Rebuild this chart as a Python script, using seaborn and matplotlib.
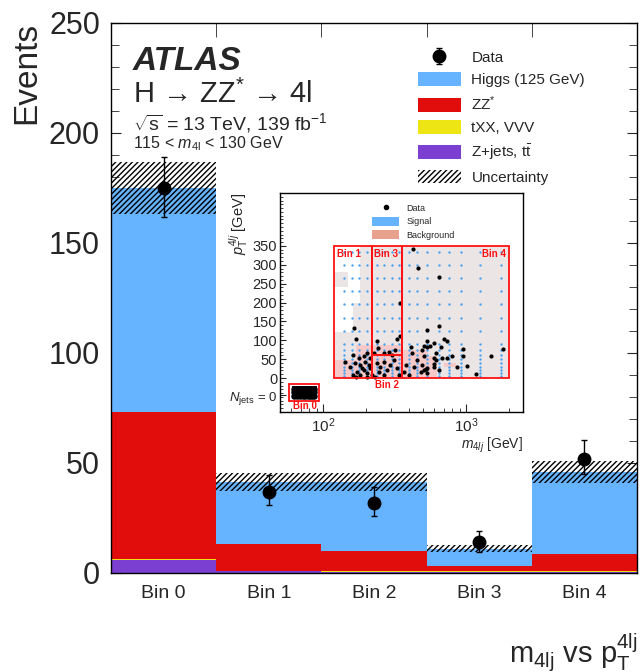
import numpy as np
import pandas as pd
import matplotlib
matplotlib.use("Agg")
import matplotlib.pyplot as plt
import seaborn as sns
from matplotlib.patches import Rectangle, Patch
from matplotlib.ticker import MultipleLocator
from matplotlib.lines import Line2D

# ---- main histogram data (events per bin) ----
bins = ["Bin 0", "Bin 1", "Bin 2", "Bin 3", "Bin 4"]
zjets = [5.8, 0.8, 0.4, 0.3, 0.4]
txx = [0.5, 0.3, 0.3, 0.5, 0.4]
zz = [67.0, 11.9, 9.3, 2.2, 7.8]
higgs = [101.7, 28.5, 31.5, 8.0, 37.4]
unc = [12.0, 4.0, 4.0, 1.5, 5.0]
data = [175, 37, 32, 14, 52]
data_lo = [13, 6, 6, 4.3, 7]
data_hi = [14, 7.5, 7, 5, 8.5]

# ---- inset: selected events (m4lj [GeV], pT4lj [GeV]) ----
ev_m = [165, 171, 345, 345, 330, 321, 239, 243, 226, 266, 289, 305, 162, 177,
        192, 203, 214, 168, 182, 198, 209, 214, 192, 173, 163, 182, 203, 220,
        239, 252, 266, 281, 245, 296, 313, 330, 340, 266, 232, 187, 155, 143,
        203, 171, 410, 422, 509, 457, 433, 495, 537, 482, 378, 368, 399, 537,
        649, 649, 537, 531, 696, 735, 598, 561, 509, 495, 667, 615, 948, 948,
        1811, 1500, 793, 735, 674, 598, 615, 593, 593, 649, 523, 509, 537,
        1016, 864, 1175, 464, 428]
ev_pt = [132, 103, 200, 110, 103, 74, 97, 79, 66, 66, 70, 61, 61, 52,
         57, 66, 52, 39, 35, 43, 35, 26, 21, 17, 8, 8, 12, 8,
         39, 30, 43, 21, 17, 35, 48, 26, 8, 8, 3, 26, 30, 43,
         3, 2, 83, 66, 57, 48, 30, 35, 26, 17, 35, 17, 8, 83,
         268, 138, 126, 99, 104, 99, 94, 85, 85, 74, 82, 66, 76, 59,
         76, 59, 57, 52, 52, 52, 48, 37, 30, 21, 23, 21, 12,
         32, 30, 10, 291, 343]
bin0_m = [63, 66, 69, 72, 75, 78, 81, 84, 87]
bin0_pt = [-28, -38, -48]
sig_m = [139, 159, 177, 203, 239, 266, 305, 339, 399, 457, 537, 649, 762, 922, 1242, 1766]
sig_pt = [5, 12, 20, 30, 40, 50, 62, 75, 90, 125, 160, 195, 230, 265, 300, 335]

c_higgs = "#66b3ff"
c_zz = "#e10c0c"
c_txx = "#eee614"
c_zj = "#7b3fd2"

sns.set_style("ticks")
plt.rcParams["font.family"] = ["Liberation Sans", "DejaVu Sans"]
plt.rcParams["mathtext.fontset"] = "custom"
plt.rcParams["mathtext.rm"] = "Liberation Sans"
plt.rcParams["mathtext.it"] = "Liberation Sans:italic"
plt.rcParams["mathtext.bf"] = "Liberation Sans:bold"
plt.rcParams["hatch.linewidth"] = 1.0

fig = plt.figure(figsize=(6.44, 6.72), dpi=100)
ax = fig.add_axes([111 / 644, 1 - 573 / 672, 526 / 644, 550 / 672])

# stacked histogram through seaborn
rows = []
for name, vals in [("Higgs", higgs), ("ZZ", zz), ("tXX", txx), ("Zjets", zjets)]:
    for i, v in enumerate(vals):
        rows.append({"bin": i, "process": name, "events": v})
df = pd.DataFrame(rows)
sns.histplot(data=df, x="bin", weights="events", hue="process",
             hue_order=["Higgs", "ZZ", "tXX", "Zjets"],
             palette=[c_higgs, c_zz, c_txx, c_zj], multiple="stack",
             discrete=True, shrink=1, element="bars", linewidth=0, alpha=1,
             legend=False, ax=ax)

total = np.array(higgs) + np.array(zz) + np.array(txx) + np.array(zjets)
x = np.arange(len(bins))
ax.bar(x, 2 * np.array(unc), bottom=total - np.array(unc), width=1.0,
       facecolor="none", edgecolor="black", hatch="//////", linewidth=0)
eb = ax.errorbar(x, data, yerr=[data_lo, data_hi], fmt="o", color="black",
                 ms=9, capsize=2.5, elinewidth=1, capthick=1, zorder=10)

ax.set_xlim(-0.5, 4.5)
ax.set_ylim(0, 250)
ax.set_xticks(x)
ax.set_xticklabels(bins, fontsize=14)
ax.set_xticks(np.arange(-0.5, 5.0, 1.0), minor=True)
ax.tick_params(axis="x", which="major", length=0, pad=9)
ax.tick_params(axis="x", which="minor", direction="in", length=10, top=True, bottom=True)
ax.set_yticks(np.arange(0, 251, 50))
ax.set_yticks(np.arange(0, 251, 10), minor=True)
ax.tick_params(axis="y", which="major", direction="in", length=7, right=True,
               labelsize=22, pad=8)
ax.tick_params(axis="y", which="minor", direction="in", length=6, right=True)
ax.set_xlabel("")
ax.set_ylabel("")
for s in ax.spines.values():
    s.set_linewidth(1.0)
    s.set_color("black")

fig.text(27 / 644, 1 - 22 / 672, "Events", rotation=90, ha="center", va="top", fontsize=24)
fig.text(638 / 644, 1 - 652 / 672, r"$\mathregular{m_{4lj}}$ vs $\mathregular{p_T^{4lj}}$",
         ha="right", va="center", fontsize=21)

ax.text(0.042, 0.930, "ATLAS", transform=ax.transAxes, fontsize=24,
        fontweight="bold", fontstyle="italic", va="center")
ax.text(0.042, 0.871, "H \u2192 ZZ$^{\\mathregular{*}}$ \u2192 4l", transform=ax.transAxes,
        fontsize=21, va="center")
ax.text(0.042, 0.818, r"$\sqrt{\mathregular{s}}$ = 13 TeV, 139 fb$^{\mathregular{-1}}$",
        transform=ax.transAxes, fontsize=14, va="center")
ax.text(0.042, 0.780, r"115 < $m_{\mathregular{4l}}$ < 130 GeV", transform=ax.transAxes,
        fontsize=11.5, va="center")

handles = [
    eb,
    Patch(facecolor=c_higgs, lw=0),
    Patch(facecolor=c_zz, lw=0),
    Patch(facecolor=c_txx, lw=0),
    Patch(facecolor=c_zj, lw=0),
    Patch(facecolor="white", edgecolor="black", hatch="//////", lw=0),
]
labels = ["Data", "Higgs (125 GeV)", r"ZZ$^{*}$", "tXX, VVV",
          r"Z+jets, t$\mathregular{\bar{t}}$", "Uncertainty"]
ax.legend(handles, labels, loc="upper left", bbox_to_anchor=(418 / 644, 1 - 50 / 672),
          bbox_transform=fig.transFigure, frameon=False, fontsize=11,
          handlelength=2.8, handleheight=1.0, labelspacing=0.47, handletextpad=0.7,
          borderaxespad=0, borderpad=0)

# ---- inset ----
ai = fig.add_axes([280 / 644, 1 - 412 / 672, 243 / 644, 219 / 672])
ai.set_xscale("log")
ai.set_xlim(50, 2500)
ai.set_ylim(-90, 490)
gray = "#ebe5e5"
pink = "#f6c9c9"
white = "white"
for (x0, x1, y0, y1, c) in [
    (120, 2000, 0, 350, gray),
    (120, 182, 200, 350, white),
    (120, 162, 123, 200, white),
    (120, 150, 241, 280, gray),
    (120, 220, 0, 48, pink),
    (170, 360, 0, 88, pink),
    (360, 540, 0, 75, pink),
    (540, 630, 0, 57, pink),
    (700, 850, 28, 40, pink),
]:
    ai.add_patch(Rectangle((x0, y0), x1 - x0, y1 - y0, facecolor=c, lw=0, zorder=1))
gm, gp = np.meshgrid(sig_m, sig_pt)
sns.scatterplot(x=gm.ravel(), y=gp.ravel(), color="#4aa3f0", s=3, linewidth=0,
                ax=ai, zorder=2, legend=False)
bm, bp = np.meshgrid(bin0_m, bin0_pt)
ai.add_patch(Rectangle((61, -56), 29, 36, facecolor="black", lw=0, zorder=3))
sns.scatterplot(x=bm.ravel(), y=bp.ravel(), color="black", s=22, linewidth=0,
                ax=ai, zorder=3, legend=False)
sns.scatterplot(x=ev_m, y=ev_pt, color="black", s=9, linewidth=0, ax=ai,
                zorder=5, legend=False)

red = "#ff1010"
for (x0, x1, y0, y1) in [(120, 220, 0, 350), (220, 355, 60, 350),
                         (220, 355, 0, 60), (355, 2000, 0, 350), (58, 93, -15, -60)]:
    ai.add_patch(Rectangle((x0, y0), x1 - x0, y1 - y0, facecolor="none",
                           edgecolor=red, lw=1.3, zorder=6))
for (xx, yy, t, ha, va) in [(126, 343, "Bin 1", "left", "top"), (226, 343, "Bin 3", "left", "top"),
                            (1900, 343, "Bin 4", "right", "top"), (282, -4, "Bin 2", "center", "top"),
                            (75, -61, "Bin 0", "center", "top")]:
    ai.text(xx, yy, t, color=red, fontsize=7, fontweight="bold", ha=ha, va=va, zorder=7)

ai.set_yticks([-45, 0, 50, 100, 150, 200, 250, 300, 350])
ai.set_yticklabels([r"$N_{\mathregular{jets}}$ = 0", "0", "50", "100", "150", "200",
                    "250", "300", "350"], fontsize=10.5)
ai.get_yticklabels()[0].set_fontsize(9.5)
ai.yaxis.set_minor_locator(MultipleLocator(10))
ai.tick_params(axis="y", which="major", direction="in", length=4, pad=2)
ai.tick_params(axis="y", which="minor", direction="in", length=2)
ai.tick_params(axis="x", which="major", direction="in", length=6, labelsize=11)
ai.tick_params(axis="x", which="minor", direction="in", length=3)
ai.set_xlabel(r"$m_{4lj}$ [GeV]", fontsize=10, loc="right", labelpad=0)
ai.set_ylabel(r"$p_{\mathregular{T}}^{4lj}$ [GeV]", fontsize=10.5, loc="top")
ai.yaxis.set_label_coords(-0.12, 1.0)
for s in ai.spines.values():
    s.set_linewidth(1.0)
    s.set_color("black")

ih = [Line2D([], [], marker="o", color="black", ms=3, lw=0),
      Patch(facecolor="#66b3ff", lw=0), Patch(facecolor="#e8a18c", lw=0)]
ai.legend(ih, ["Data", "Signal", "Background"], loc="upper center",
          bbox_to_anchor=(0.55, 0.99), frameon=False, fontsize=6.5,
          handlelength=3.0, handleheight=1.2, labelspacing=0.4)

fig.savefig("out.png", dpi=100)
